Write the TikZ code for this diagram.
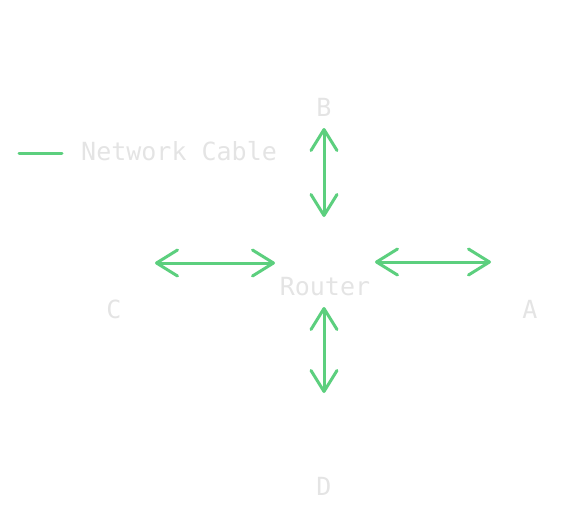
\documentclass[tikz,border=0pt]{standalone}
\usepackage{fontspec}
\setmonofont{DejaVu Sans Mono}
\usepackage{xcolor}
\usetikzlibrary{arrows.meta,positioning}

\definecolor{cablegreen}{HTML}{5CCF7E}
\definecolor{labelgray}{HTML}{E4E4E4}

\begin{document}
\begin{tikzpicture}[x=1pt, y=-1pt,
    lbl/.style={text=labelgray, font=\ttfamily\fontsize{25}{30}\selectfont, inner sep=0pt},
    cable/.style={draw=cablegreen, line width=3pt, line cap=round, line join=round},
    link/.style={cable, {Straight Barb[length=21pt, width=26pt, round]}-{Straight Barb[length=21pt, width=26pt, round]}}]
    % frame
    \useasboundingbox (0,0) rectangle (587,523);

    % legend
    \coordinate (legA) at (19,153);
    \coordinate (legB) at (62,153);
    \draw[cable] (legA) -- (legB);
    \node[lbl, anchor=west] (legend) at (81,151) {Network Cable};

    % devices
    \node[lbl] (router) at (325,287) {Router};
    \node[lbl] (a) at (530,309) {A};
    \node[lbl] (b) at (324,107) {B};
    \node[lbl] (c) at (114,309) {C};
    \node[lbl] (d) at (324,486) {D};

    % cable ends
    \coordinate (bTop) at (324,128);
    \coordinate (bBot) at (324,217);
    \coordinate (dTop) at (324,307);
    \coordinate (dBot) at (324,393);
    \coordinate (cL) at (155,263);
    \coordinate (cR) at (275,263);
    \coordinate (aL) at (375,262);
    \coordinate (aR) at (491,262);

    % links
    \draw[link] (bTop) -- (bBot);
    \draw[link] (dTop) -- (dBot);
    \draw[link] (cL) -- (cR);
    \draw[link] (aL) -- (aR);
\end{tikzpicture}
\end{document}
